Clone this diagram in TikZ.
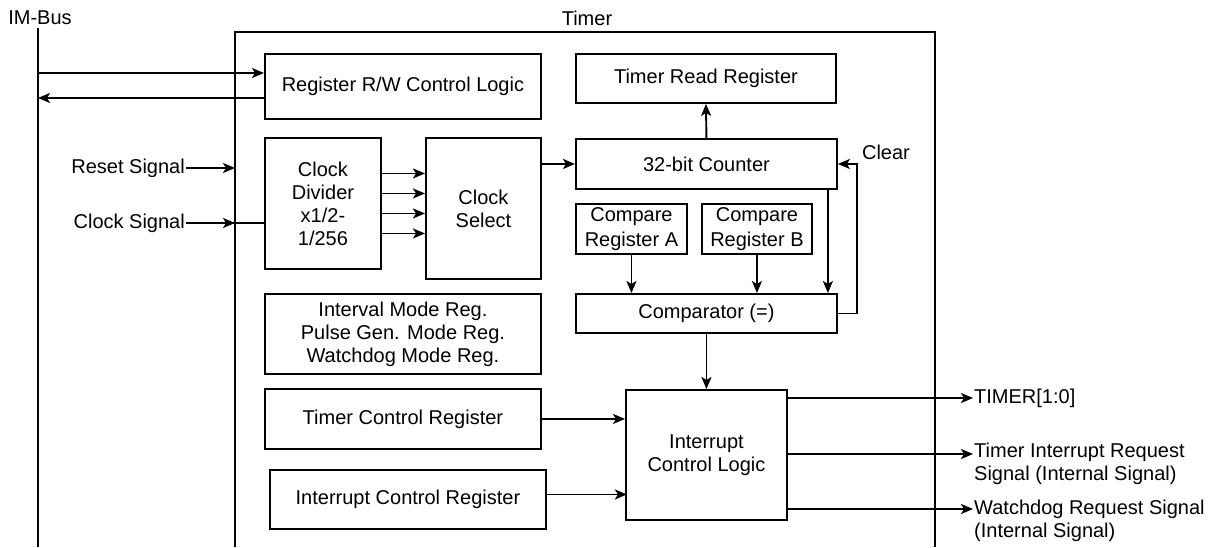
\documentclass[tikz,border=0pt]{standalone}
\usepackage{fontspec}
\setmainfont{Liberation Sans}
\usetikzlibrary{arrows.meta,positioning,calc}

\begin{document}
\begin{tikzpicture}[
  x=1pt,y=-1pt,
  font=\fontsize{20}{23}\selectfont,
  block/.style={draw,line width=1.9pt,anchor=north west,align=center,inner sep=0pt},
  sig/.style={-{Stealth[length=12pt,width=10pt,inset=3pt]},line width=1.9pt},
  frame/.style={line width=2.4pt},
  lbl/.style={inner sep=1pt,align=left}
]
  \useasboundingbox (0,0) rectangle (1219,547);
  \node[block,minimum width=276,minimum height=65] (rw) at (264,53) {Register R/W Control Logic};
  \node[block,minimum width=260,minimum height=49] (read) at (575,53) {Timer Read Register};
  \node[block,minimum width=116,minimum height=131] (div) at (264,137) {Clock\\Divider\\x1/2-\\1/256};
  \node[block,minimum width=115,minimum height=141] (sel) at (425,137) {Clock\\Select};
  \node[block,minimum width=261,minimum height=50] (cnt) at (575,138) {32-bit Counter};
  \node[block,minimum width=111,minimum height=50,font=\fontsize{20}{25}\selectfont] (cmpa) at (575,203) {Compare\\Register A};
  \node[block,minimum width=110,minimum height=50,font=\fontsize{20}{25}\selectfont] (cmpb) at (701,203) {Compare\\Register B};
  \node[block,minimum width=261,minimum height=39] (comp) at (575,293) {Comparator (=)};
  \node[block,minimum width=276,minimum height=80] (mode) at (264,293) {Interval Mode Reg.\\Pulse Gen. Mode Reg.\\Watchdog Mode Reg.};
  \node[block,minimum width=276,minimum height=60] (tcr) at (264,388) {Timer Control Register};
  \node[block,minimum width=276,minimum height=59] (icr) at (269,469) {Interrupt Control Register};
  \node[block,minimum width=161,minimum height=130] (icl) at (625,389) {Interrupt\\Control Logic};
  \node[lbl] (imbus) at (40,18) {IM-Bus};
  \node[lbl] (timer) at (587,18) {Timer};
  \node[lbl,anchor=east] (reset) at (186,168) {Reset Signal};
  \node[lbl,anchor=east] (clk) at (186,223) {Clock Signal};
  \node[lbl] (clear) at (886,152) {Clear};
  \node[lbl,anchor=west] (tmo) at (973,398) {TIMER[1:0]};
  \node[lbl,anchor=north west] (tirq) at (973,442) {Timer Interrupt Request\\Signal (Internal Signal)};
  \node[lbl,anchor=north west] (wdq) at (973,499) {Watchdog Request Signal\\(Internal Signal)};
  \coordinate (bt) at (38,28);
  \coordinate (bb) at (38,547);
  \coordinate (tw) at (235,32);
  \coordinate (te) at (935,32);
  \coordinate (b1) at (38,73);
  \coordinate (b2) at (38,98);
  \coordinate (o2) at (973,454);
  \coordinate (o3) at (973,509);
  \draw[frame] (bt) -- (bb);
  \draw[frame] (tw |- bb) -- (tw) -- (te) -- (te |- bb);
  \draw[sig] (b1) -- (b1 -| rw.west);
  \draw[sig] (b2 -| rw.west) -- (b2);
  \draw[sig] (reset.east) -- (reset.east -| tw);
  \draw[line width=1.9pt] (clk.east) -- (clk.east -| div.west);
  \draw[sig] (clk.east) -- (clk.east -| tw);
  \foreach \dy in {-30,-10,10,30}
    \draw[sig] ($(div.east)+(0,\dy)$) -- ($(sel.west |- div.east)+(0,\dy)$);
  \draw[sig] (sel.east |- cnt.west) -- (cnt.west);
  \draw[sig] (cnt.north) -- (read.south);
  \draw[sig] (cmpa.south) -- (cmpa.south |- comp.north);
  \draw[sig] (cmpb.south) -- (cmpb.south |- comp.north);
  \draw[sig] ([xshift=-10pt]cnt.south east) -- ([xshift=-10pt]comp.north east);
  \draw[sig] (comp.east) -- ++(19,0) |- (cnt.east);
  \draw[sig] (comp.south) -- (icl.north);
  \draw[sig] (tcr.east) -- (tcr.east -| icl.west);
  \draw[sig] ([yshift=5pt]icr.east) -- ++(80,0);
  \draw[sig] (icl.east |- tmo.west) -- (tmo.west);
  \draw[sig] (icl.east |- o2) -- (o2);
  \draw[sig] (icl.east |- o3) -- (o3);
\end{tikzpicture}
\end{document}
